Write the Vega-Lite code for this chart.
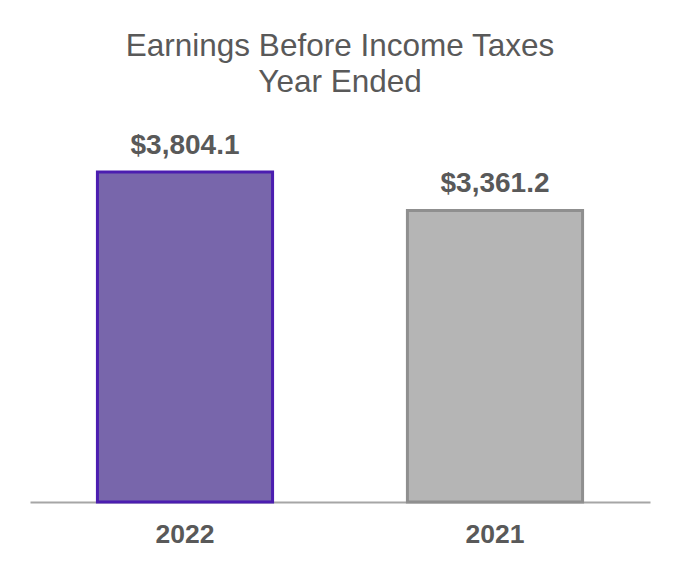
{
  "$schema": "https://vega.github.io/schema/vega-lite/v6.json",
  "width": 620,
  "height": 347,
  "autosize": {"type": "none"},
  "padding": {"left": 30, "top": 155, "right": 30, "bottom": 78},
  "background": "white",
  "config": {"view": {"stroke": null}, "font": "Liberation Sans"},
  "title": {
    "text": ["Earnings Before Income Taxes", "Year Ended"],
    "fontSize": 31.5,
    "fontWeight": "normal",
    "color": "#595959",
    "lineHeight": 36,
    "anchor": "middle",
    "offset": 33
  },
  "data": {
    "values": [
      {"year": "2022", "value": 3804.1, "label": "$3,804.1"},
      {"year": "2021", "value": 3361.2, "label": "$3,361.2"}
    ]
  },
  "encoding": {
    "x": {
      "field": "year",
      "type": "nominal",
      "sort": ["2022", "2021"],
      "scale": {"paddingInner": 0.435, "paddingOuter": 0.2175},
      "axis": {
        "title": null,
        "labelAngle": 0,
        "labelFontSize": 26.5,
        "labelFontWeight": "bold",
        "labelColor": "#595959",
        "labelPadding": 19,
        "ticks": false,
        "domainColor": "#A6A6A6",
        "domainWidth": 2
      }
    },
    "y": {
      "field": "value",
      "type": "quantitative",
      "scale": {"domain": [0, 4000], "nice": false},
      "axis": null
    }
  },
  "layer": [
    {
      "mark": {"type": "bar", "strokeWidth": 3},
      "encoding": {
        "color": {
          "field": "year",
          "type": "nominal",
          "scale": {"domain": ["2022", "2021"], "range": ["#7866AB", "#B5B5B5"]},
          "legend": null
        },
        "stroke": {
          "field": "year",
          "type": "nominal",
          "scale": {"domain": ["2022", "2021"], "range": ["#4B1DB0", "#8F8F8F"]},
          "legend": null
        }
      }
    },
    {
      "mark": {"type": "text", "dy": -12, "baseline": "bottom", "fontSize": 28, "fontWeight": "bold", "color": "#595959"},
      "encoding": {"text": {"field": "label"}}
    }
  ]
}
